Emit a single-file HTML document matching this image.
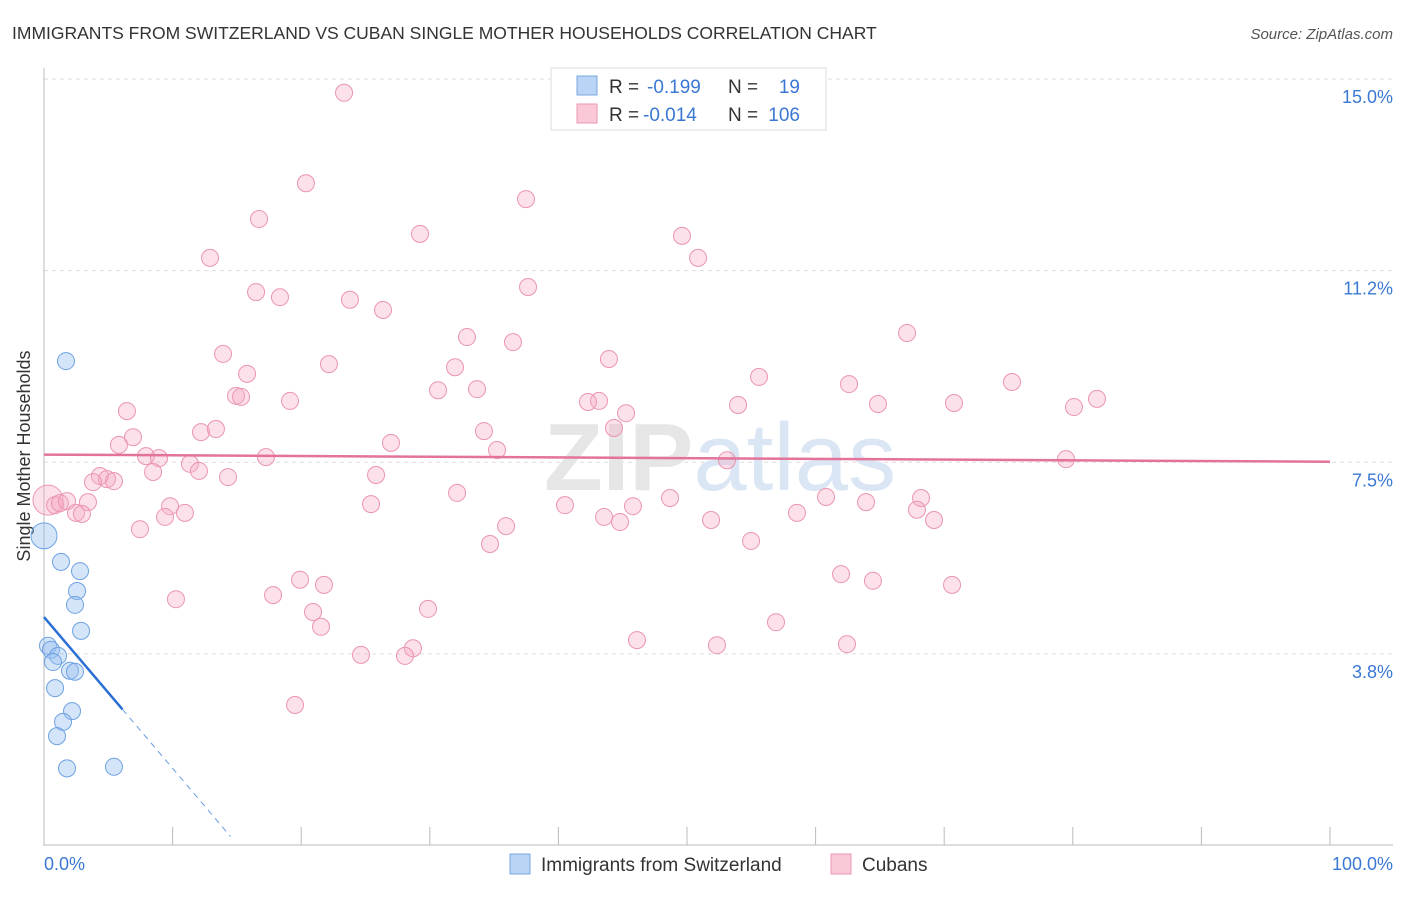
<!DOCTYPE html>
<html><head><meta charset="utf-8"><style>
body{margin:0;background:#fff;font-family:"Liberation Sans",sans-serif}
svg text{font-family:"Liberation Sans",sans-serif}
</style></head><body>
<svg width="1406" height="892" xmlns="http://www.w3.org/2000/svg">
<text x="12" y="39" font-size="17.5" fill="#333">IMMIGRANTS FROM SWITZERLAND VS CUBAN SINGLE MOTHER HOUSEHOLDS CORRELATION CHART</text>
<text x="1393" y="39" font-size="15" fill="#555" font-style="italic" text-anchor="end">Source: ZipAtlas.com</text>
<g id="grid"></g>
<text x="720" y="490" font-size="96" fill="#e6e6e6" text-anchor="middle" font-weight="bold">ZIP<tspan fill="#dbe6f5" font-weight="normal">atlas</tspan></text>
<line x1="44" y1="68" x2="44" y2="846" stroke="#bbb"/>
<line x1="44" y1="845" x2="1393" y2="845" stroke="#bbb"/>
<g id="xticks"></g>
<g id="ylabels"></g>
<text x="30" y="456" font-size="18" fill="#333" text-anchor="middle" transform="rotate(-90 30 456)">Single Mother Households</text>
<text x="44" y="870" font-size="18" fill="#3a78d4">0.0%</text>
<text x="1393" y="870" font-size="18" fill="#3a78d4" text-anchor="end">100.0%</text>
<g id="pink"></g>
<g id="blue"></g>
<g id="lines"></g>
<g>
<rect x="551" y="68" width="275" height="62" fill="#fff" stroke="#ddd"/>
<rect x="577" y="76" width="20" height="19" fill="#b9d4f5" stroke="#7aa7e0"/>
<rect x="577" y="104" width="20" height="19" fill="#fac8d6" stroke="#e99ab2"/>
<text x="609" y="93" font-size="19" fill="#333">R = </text><text x="647" y="93" font-size="19" fill="#3a78d4">-0.199</text>
<text x="728" y="93" font-size="19" fill="#333">N = </text><text x="800" y="93" font-size="19" fill="#3a78d4" text-anchor="end">19</text>
<text x="609" y="121" font-size="19" fill="#333">R = </text><text x="643" y="121" font-size="19" fill="#3a78d4">-0.014</text>
<text x="728" y="121" font-size="19" fill="#333">N = </text><text x="800" y="121" font-size="19" fill="#3a78d4" text-anchor="end">106</text>
</g>
<g>
<rect x="510" y="854" width="20" height="20" fill="#b9d4f5" stroke="#7aa7e0"/>
<text x="541" y="871" font-size="19" fill="#333">Immigrants from Switzerland</text>
<rect x="831" y="854" width="20" height="20" fill="#fac8d6" stroke="#e99ab2"/>
<text x="862" y="871" font-size="19" fill="#333">Cubans</text>
</g>
</svg>
<script>
const yTicks=[3.8,7.5,11.2,15.0];
const yTickLabels=["3.8%","7.5%","11.2%","15.0%"];
const xTickCount=10;
const blueX=[1.71,0,1.32,2.80,2.57,2.41,2.88,0.31,0.54,1.09,0.70,2.02,2.41,0.86,2.18,1.48,1.01,1.79,5.44];
const blueY=[9.48,6.06,5.55,5.37,4.98,4.71,4.20,3.91,3.83,3.71,3.59,3.42,3.40,3.08,2.63,2.42,2.14,1.51,1.54];
const pinkX=[23.33,20.37,16.72,37.48,29.24,49.61,12.91,50.86,16.49,18.35,37.64,23.79,26.36,67.11,32.89,36.47,13.92,22.16,43.93,31.96,15.79,55.6,62.6,75.27,30.64,33.67,14.93,15.32,19.13,43.16,42.3,81.88,6.45,53.97,64.85,70.76,80.09,45.26,44.32,12.21,13.37,34.21,6.92,26.98,5.83,17.26,35.23,7.93,8.94,11.35,79.47,53.11,12.05,8.48,4.35,25.82,4.9,5.44,3.81,14.31,32.12,48.68,60.81,68.2,0.31,0.86,1.24,1.79,3.42,9.8,25.43,40.51,63.92,45.8,10.96,2.49,2.95,67.88,9.41,43.55,44.79,51.87,58.55,69.21,7.46,35.93,34.68,54.98,19.91,21.77,61.98,64.46,70.61,17.81,10.26,20.92,29.86,21.54,56.92,46.11,52.33,62.44,28.69,24.65,28.07,19.52];
const pinkY=[14.73,12.96,12.26,12.65,11.97,11.93,11.50,11.50,10.83,10.73,10.93,10.68,10.48,10.03,9.95,9.85,9.62,9.42,9.52,9.36,9.23,9.17,9.03,9.07,8.91,8.93,8.80,8.78,8.70,8.70,8.68,8.74,8.50,8.62,8.64,8.66,8.58,8.46,8.17,8.09,8.15,8.11,7.99,7.88,7.84,7.60,7.74,7.62,7.58,7.47,7.56,7.54,7.33,7.31,7.23,7.25,7.17,7.13,7.11,7.21,6.90,6.80,6.82,6.80,6.76,6.66,6.70,6.74,6.72,6.64,6.68,6.66,6.72,6.64,6.51,6.51,6.49,6.57,6.43,6.43,6.33,6.37,6.51,6.37,6.19,6.25,5.90,5.96,5.20,5.10,5.31,5.18,5.10,4.90,4.82,4.57,4.63,4.28,4.37,4.02,3.92,3.94,3.86,3.73,3.71,2.75];
const blueTrend=[4.47,-0.296];
const pinkTrend=[7.65,-0.0014];
const NS="http://www.w3.org/2000/svg";
const sx=v=>44+v*12.86, sy=v=>79+(15-v)*51.1;
function mk(tag,attrs,parent){const e=document.createElementNS(NS,tag);for(const k in attrs)e.setAttribute(k,attrs[k]);parent.appendChild(e);return e;}
const grid=document.getElementById('grid'),yl=document.getElementById('ylabels');
yTicks.forEach((t,i)=>{
 const gy=sy(t===3.8?3.75:t===11.2?11.25:t);
 const l=mk('line',{x1:44,x2:1393,y1:gy,y2:gy,stroke:'#ddd','stroke-dasharray':'4,4'},grid);
 
 
 const tx=mk('text',{x:1393,y:gy+24,'font-size':18,fill:'#3a78d4','text-anchor':'end'},yl);
 tx.textContent=yTickLabels[i];
 
 
});
const xt=document.getElementById('xticks');
for(let i=1;i<=xTickCount;i++){const x=sx(i*10);
 const l=mk('line',{x1:x,x2:x,y1:827,y2:845,stroke:'#bbb'},xt);
 
 }
const pg=document.getElementById('pink');
pinkX.forEach((x,i)=>{
 const c=mk('circle',{cx:sx(x),cy:sy(pinkY[i]),r:i===64?15:8.5,fill:'rgba(246,170,194,0.35)',stroke:'#eb95b0','stroke-width':1},pg);
 
 
});
const bg=document.getElementById('blue');
blueX.forEach((x,i)=>{
 const c=mk('circle',{cx:sx(x),cy:sy(blueY[i]),r:i===1?13:8.5,fill:'rgba(150,190,240,0.4)',stroke:'#6ea2e2','stroke-width':1},bg);
 
 
});
const lg=document.getElementById('lines');
const bl=x=>blueTrend[0]+blueTrend[1]*x, pl=x=>pinkTrend[0]+pinkTrend[1]*x;
let e=mk('line',{x1:sx(0),y1:sy(bl(0)),x2:sx(6.1),y2:sy(bl(6.1)),stroke:'#2a6fd4','stroke-width':2.5},lg);


e=mk('line',{x1:sx(6.1),y1:sy(bl(6.1)),x2:sx(14.5),y2:sy(bl(14.5)),stroke:'#6a9be0','stroke-width':1,'stroke-dasharray':'6,5'},lg);


e=mk('line',{x1:sx(0),y1:sy(pl(0)),x2:sx(100),y2:sy(pl(100)),stroke:'#e4739a','stroke-width':2.5},lg);


</script>
</body></html>
